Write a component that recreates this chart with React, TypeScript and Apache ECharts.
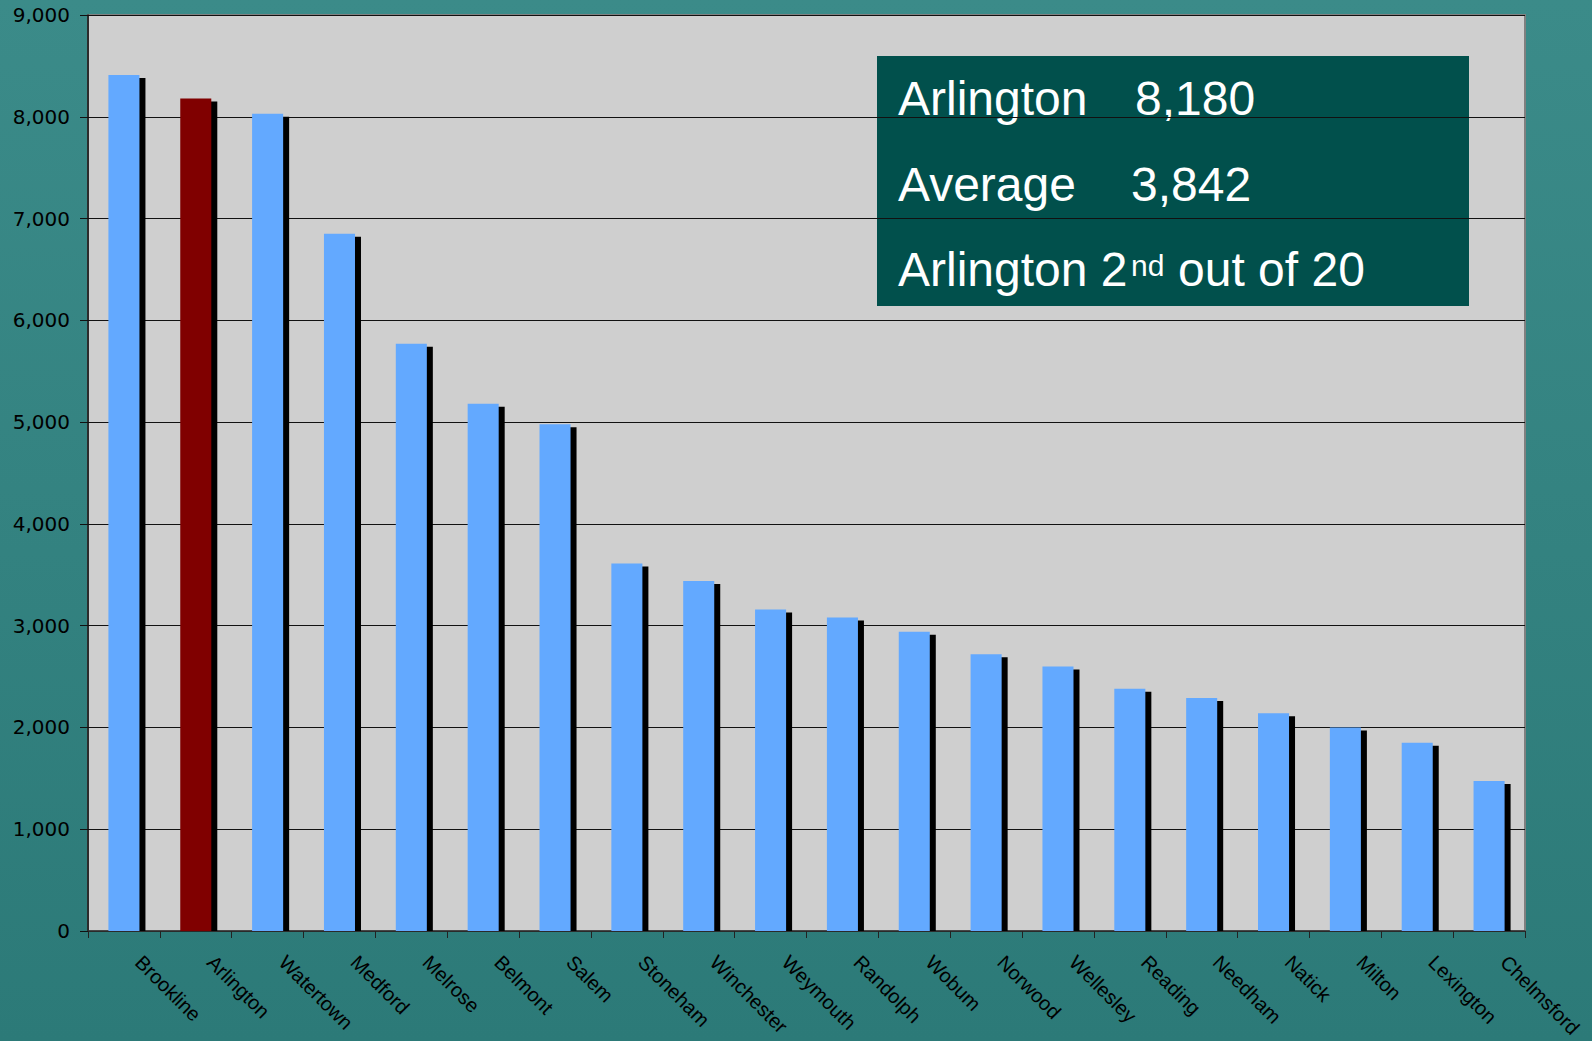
import React, { useEffect, useRef } from "react";
import * as echarts from "echarts";

// Towns ranked by value, highest first
const towns: string[] = [
  "Brookline", "Arlington", "Watertown", "Medford", "Melrose",
  "Belmont", "Salem", "Stoneham", "Winchester", "Weymouth",
  "Randolph", "Wobum", "Norwood", "Wellesley", "Reading",
  "Needham", "Natick", "Milton", "Lexington", "Chelmsford",
];

const values: number[] = [
  8410, 8180, 8030, 6850, 5770,
  5180, 4980, 3610, 3440, 3160,
  3080, 2940, 2720, 2600, 2380,
  2290, 2140, 2000, 1850, 1475,
];

const highlightTown = "Arlington";
const summaryLines: string[] = ["Arlington", "8,180", "Average", "3,842"];
const rankParts: string[] = ["Arlington 2", "nd", "out of 20"];

const yMin = 0;
const yMax = 9000;
const yStep = 1000;

const BAR_BLUE = "#63a9ff";
const BAR_RED = "#800000";

export default function App() {
  const ref = useRef<HTMLDivElement>(null);

  useEffect(() => {
    document.body.style.margin = "0";
    document.body.style.overflow = "hidden";
    if (!ref.current) return;
    const chart = echarts.init(ref.current, null, { renderer: "svg" });

    const seriesData = values.map((v, i) => [i, v]);

    const boxFont = "Liberation Sans, Arial, sans-serif";
    const boxText = (text: string, x: number, y: number, size = 48) => ({
      type: "text",
      x,
      y,
      style: { text, fill: "#fff", font: `${size}px ${boxFont}`, verticalAlign: "middle" },
    });

    chart.setOption({
      animation: false,
      backgroundColor: {
        type: "linear",
        x: 0, y: 0, x2: 0, y2: 1,
        colorStops: [
          { offset: 0, color: "#3b8b89" },
          { offset: 1, color: "#2c7a78" },
        ],
      },
      grid: {
        left: 88,
        top: 15,
        right: 67,
        bottom: 110,
        containLabel: false,
        outerBoundsMode: "none",
        show: true,
        backgroundColor: "#cfcfcf",
        borderColor: "#808080",
        borderWidth: 2,
      },
      xAxis: {
        type: "category",
        data: towns,
        boundaryGap: true,
        axisLine: { lineStyle: { color: "#333", width: 1.5 } },
        axisTick: { show: true, length: 7, lineStyle: { color: "#222" } },
        axisLabel: {
          interval: 0,
          rotate: -45,
          margin: 13,
          padding: [0, 0, 0, 21],
          color: "#000",
          fontFamily: "Liberation Sans, Arial, sans-serif",
          fontSize: 20,
        },
      },
      yAxis: {
        type: "value",
        min: yMin,
        max: yMax,
        interval: yStep,
        axisLine: { show: true, lineStyle: { color: "#111", width: 1.5 } },
        axisTick: { show: true, length: 8, lineStyle: { color: "#111" } },
        splitLine: { show: true, lineStyle: { color: "#111", width: 1 } },
        axisLabel: {
          margin: 18,
          color: "#000",
          fontFamily: "DejaVu Sans, sans-serif",
          fontSize: 20,
          formatter: (v: number) => v.toLocaleString("en-US"),
        },
      },
      series: [
        {
          type: "custom",
          data: seriesData,
          encode: { x: 0, y: 1 },
          renderItem: (params: any, api: any) => {
            const idx = api.value(0);
            const val = api.value(1);
            const top = api.coord([idx, val]);
            const base = api.coord([idx, 0]);
            const band = api.size([1, 0])[0];
            const w = band * 0.432;
            const off = 6;
            const drop = 3;
            const x0 = top[0] - w / 2;
            const color = towns[idx] === highlightTown ? BAR_RED : BAR_BLUE;
            return {
              type: "group",
              children: [
                {
                  type: "rect",
                  shape: { x: x0 + off, y: top[1] + drop, width: w, height: base[1] - top[1] - drop },
                  style: { fill: "#000" },
                },
                {
                  type: "rect",
                  shape: { x: x0, y: top[1], width: w, height: base[1] - top[1] },
                  style: { fill: color },
                },
              ],
            };
          },
        },
      ],
      graphic: [
        {
          type: "group",
          left: 877,
          top: 56,
          children: [
            {
              type: "rect",
              shape: { x: 0, y: 0, width: 592, height: 250 },
              style: { fill: "#01504c" },
            },
            boxText(summaryLines[0], 21, 42),
            boxText(summaryLines[1], 258, 42),
            boxText(summaryLines[2], 21, 128),
            boxText(summaryLines[3], 254, 128),
            boxText(rankParts[0], 21, 213),
            boxText(rankParts[1], 254, 209, 30),
            boxText(rankParts[2], 301, 213),
          ],
        },
      ],
    });

    return () => chart.dispose();
  }, []);

  return (
    <div
      ref={ref}
      style={{ position: "fixed", left: 0, top: 0, width: 1592, height: 1041 }}
    />
  );
}
